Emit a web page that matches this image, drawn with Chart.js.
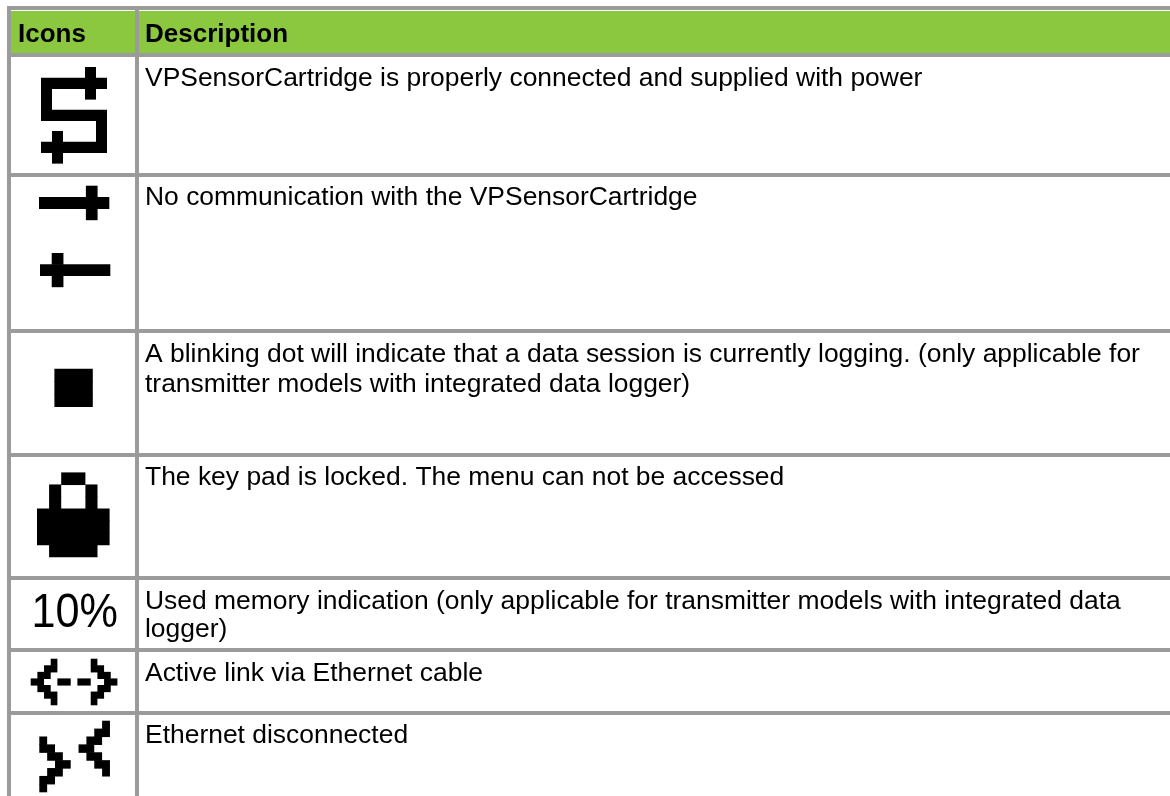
<!DOCTYPE html>
<html>
<head>
<meta charset="utf-8">
<style>
html,body{margin:0;padding:0;background:#fff;overflow:hidden}
#wrap{position:absolute;left:0;top:0;width:1170px;height:796px}
</style>
<script src="https://cdn.jsdelivr.net/npm/chart.js@4/dist/chart.umd.min.js"></script>
</head>
<body>
<div id="wrap"><canvas id="c" width="1170" height="796"></canvas></div>
<script>
// ---------- data ----------
const headers = ["Icons", "Description"];
const descriptions = [
  ["VPSensorCartridge is properly connected and supplied with power"],
  ["No communication with the VPSensorCartridge"],
  ["A blinking dot will indicate that a data session is currently logging. (only applicable for", "transmitter models with integrated data logger)"],
  ["The key pad is locked. The menu can not be accessed"],
  ["Used memory indication (only applicable for transmitter models with integrated data", "logger)"],
  ["Active link via Ethernet cable"],
  ["Ethernet disconnected"]
];
const memoryLabel = "10%";
const rowLines = [8, 55, 174.5, 331, 455, 577.5, 650, 713];
const columnLines = [9, 137];

const iconConnected = ["....#.","######","#...#.","#.....","######",".....#",".#...#","######",".#...."];
const iconNoCommTop = ["....#.","######","....#."];
const iconNoCommBottom = [".#....","######",".#...."];
const iconDot = ["###","###","###"];
const iconLock = ["..##..",".#..#.",".#..#.","######","######","######",".####."];
const iconLink = ["...#.....#...","..##.....##..",".##.......##.","##..##.##..##",".##.......##.","..##.....##..","...#.....#..."];
const iconUnlinked = ["........#",".......##","#.....##.","##...##..",".##...##.","..##...##",".##.....#","##.......","#........"];

// ---------- layout ----------
const GREY = "#9b9b9b", GREEN = "#8cc83f", INK = "#000";
const textBaselines = [[86],[205],[362,392],[485],[609,637],[681],[743]];
const iconPlacement = [
  {bits: iconConnected,    x: 41,   y: 67.3,  w: 11,    h: 10.67},
  {bits: iconNoCommTop,    x: 39,   y: 186,   w: 11.72, h: 11.3},
  {bits: iconNoCommBottom, x: 40,   y: 253.3, w: 11.72, h: 11.2},
  {bits: iconDot,          x: 54.4, y: 369,   w: 12.8,  h: 12.6},
  {bits: iconLock,         x: 37,   y: 472.7, w: 12.1,  h: 12.05},
  {bits: iconLink,         x: 30.7, y: 659,   w: 6.67,  h: 6.57},
  {bits: iconUnlinked,     x: 39.3, y: 721,   w: 7.85,  h: 7.89}
];
function runs(p) {
  const out = [];
  p.bits.forEach((row, r) => {
    const re = /#+/g; let m;
    while ((m = re.exec(row))) {
      out.push({y: p.y + (r + 0.5) * p.h, x: [p.x + m.index * p.w, p.x + (m.index + m[0].length) * p.w]});
    }
  });
  return out;
}
const base = {stack: "t", inflateAmount: 0, borderWidth: 0, borderSkipped: false};
const datasets = [
  Object.assign({}, base, {
    label: "header", backgroundColor: GREEN, barThickness: 42,
    data: [{y: 32, x: [11, 135]}, {y: 32, x: [139, 1170]}]
  })
].concat(iconPlacement.map((p, i) => Object.assign({}, base, {
  label: "icon" + i, backgroundColor: INK, barThickness: p.h + 0.6, data: runs(p)
})));

const textPlugin = {
  id: "tableText",
  afterDatasetsDraw(chart) {
    const {ctx, scales: {x, y}} = chart;
    ctx.save();
    ctx.fillStyle = INK;
    ctx.textBaseline = "alphabetic";
    ctx.textAlign = "left";
    ctx.font = 'bold 26px "Liberation Sans", Arial, sans-serif';
    ctx.fillText(headers[0], x.getPixelForValue(18), y.getPixelForValue(41.5));
    ctx.fillText(headers[1], x.getPixelForValue(145), y.getPixelForValue(41.5));
    ctx.font = '26.45px "Liberation Sans", Arial, sans-serif';
    descriptions.forEach((lines, r) => {
      lines.forEach((t, l) => {
        ctx.fillText(t, x.getPixelForValue(145), y.getPixelForValue(textBaselines[r][l]));
      });
    });
    ctx.font = '48px "Liberation Sans", Arial, sans-serif';
    ctx.translate(x.getPixelForValue(31.5), y.getPixelForValue(627));
    ctx.scale(0.9, 1);
    ctx.fillText(memoryLabel, 0, 0);
    ctx.restore();
  }
};

new Chart(document.getElementById("c"), {
  type: "bar",
  data: {datasets},
  plugins: [textPlugin],
  options: {
    indexAxis: "y",
    responsive: false,
    animation: false,
    events: [],
    layout: {padding: {left: 7, top: 6, right: 0, bottom: 0}},
    plugins: {legend: {display: false}, title: {display: false}, tooltip: {enabled: false}},
    scales: {
      x: {
        type: "linear", min: 7, max: 1170, stacked: false,
        afterBuildTicks(s) { s.ticks = columnLines.map(v => ({value: v})); },
        ticks: {display: false},
        border: {display: false},
        grid: {color: GREY, lineWidth: 4, drawTicks: false}
      },
      y: {
        type: "linear", min: 6, max: 796, reverse: true, offset: false,
        afterBuildTicks(s) { s.ticks = rowLines.map(v => ({value: v})); },
        ticks: {display: false},
        border: {display: false},
        grid: {color: GREY, lineWidth: 4, drawTicks: false, offset: false}
      }
    }
  }
});
</script>
</body>
</html>
